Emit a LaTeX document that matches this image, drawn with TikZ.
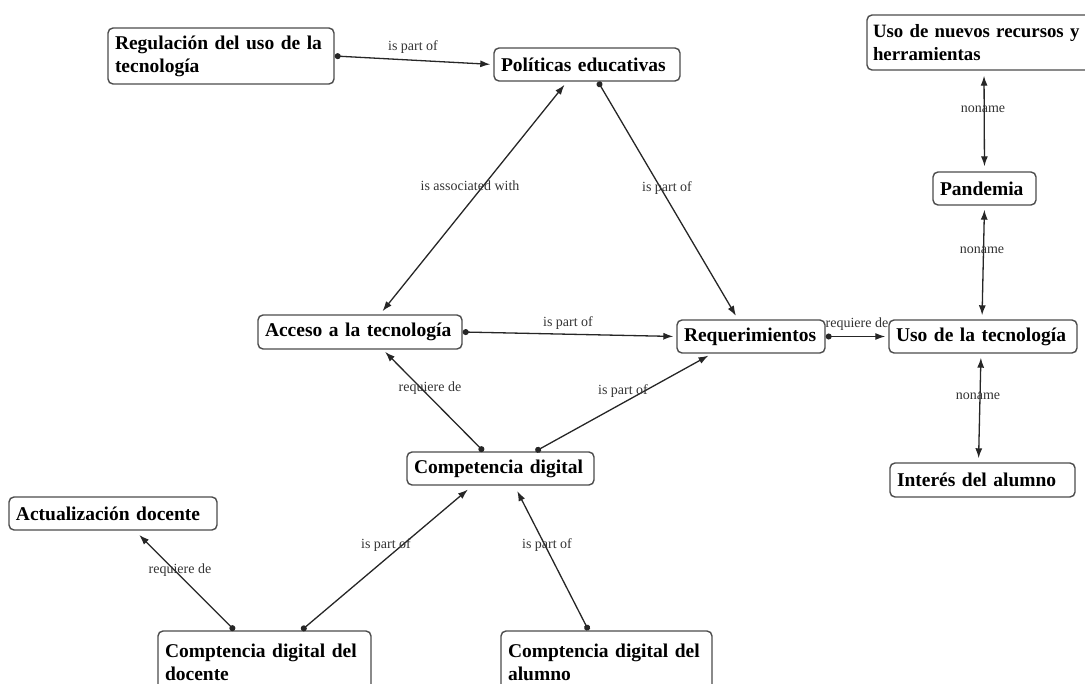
\documentclass[tikz,border=0pt]{standalone}
\usepackage{fontspec}
\setmainfont{Liberation Serif}
\usetikzlibrary{arrows.meta,calc}

\begin{document}
\begin{tikzpicture}[x=1pt,y=-1pt,
  concept/.style={draw=black!70, line width=1.4pt, rounded corners=5pt, fill=white,
    inner xsep=7pt, inner ysep=2pt, align=left, text=black,
    font=\fontsize{19.5}{23}\selectfont\bfseries},
  link/.style={draw=black!85, line width=1.3pt},
  oneway/.style={link, {Circle[length=6pt]}-{Latex[length=10pt,width=7pt]}, shorten >=3pt},
  twoway/.style={link, {Latex[length=10pt,width=7pt]}-{Latex[length=10pt,width=7pt]}, shorten >=4pt, shorten <=4pt},
  lab/.style={font=\fontsize{14}{16}\selectfont, text=black!80, inner sep=0pt}
]
\useasboundingbox (0,0) rectangle (1085,684);

% concepts
\node[concept, text width=212pt, minimum height=56pt] (reg) at (221,56) {Regulación del uso de la\\tecnología};
\node[concept, text width=172pt, minimum height=33pt] (pol) at (587,64.5) {Políticas educativas};
\node[concept, text width=226pt, minimum height=55pt, inner xsep=6pt,
      font=\fontsize{18.8}{23}\selectfont\bfseries] (nue) at (986,42.5) {\mbox{Uso de nuevos recursos y}\\herramientas};
\node[concept, text width=89pt, minimum height=33pt] (pan) at (984.5,188.5) {Pandemia};
\node[concept, text width=190pt, minimum height=34pt] (acc) at (360,332) {Acceso a la tecnología};
\node[concept, text width=134pt, minimum height=33pt] (req) at (751,336.5) {Requerimientos};
\node[concept, text width=174pt, minimum height=33pt] (uso) at (983,336.5) {Uso de la tecnología};
\node[concept, text width=173pt, minimum height=33pt] (com) at (500.5,468.5) {Competencia digital};
\node[concept, text width=171pt, minimum height=34pt] (int) at (982.5,480) {Interés del alumno};
\node[concept, text width=194pt, minimum height=33pt] (act) at (113,513.5) {Actualización docente};
\node[concept, text width=199pt, minimum height=62pt] (doc) at (264.5,662) {Comptencia digital del\\docente};
\node[concept, text width=197pt, minimum height=62pt] (alu) at (606.5,662) {Comptencia digital del\\alumno};

% connectors
\draw[oneway] (reg.east) -- (pol.west);
\draw[twoway] ($(pol.south)+(-20,0)$) -- ($(acc.north)+(20,0)$);
\draw[oneway, shorten >=4pt] ($(pol.south)+(11,0)$) -- ($(req.north)+(-13,0)$);
\draw[oneway] (acc.east) -- (req.west);
\draw[oneway] (req.east) -- (uso.west);
\draw[twoway, shorten >=5pt, shorten <=5pt] ($(nue.south)+(-2,0)$) -- (pan.north);
\draw[twoway] (pan.south) -- ($(uso.north)+(-1,0)$);
\draw[twoway] ($(uso.south)+(-2,0)$) -- ($(int.north)+(-4,0)$);
\draw[oneway] ($(com.north)+(-17,0)$) -- ($(acc.south)+(23,0)$);
\draw[oneway, shorten >=4pt] ($(com.north)+(35,0)$) -- ($(req.south)+(-39,0)$);
\draw[oneway, shorten >=6pt] ($(doc.north)+(-30,0)$) -- ($(act.south)+(22,0)$);
\draw[oneway, shorten >=6pt] ($(doc.north)+(37,0)$) -- ($(com.south)+(-28,0)$);
\draw[oneway, shorten >=6pt] ($(alu.north)+(-18,0)$) -- ($(com.south)+(14,0)$);

% connector labels
\node[lab] (l1) at (413,47) {is part of};
\node[lab] (l2) at (470,186) {is associated with};
\node[lab] (l3) at (667,188) {is part of};
\node[lab] (l4) at (568,323) {is part of};
\node[lab] (l5) at (857,324) {requiere de};
\node[lab] (l6) at (983,109) {noname};
\node[lab] (l7) at (982,250) {noname};
\node[lab] (l8) at (978,396) {noname};
\node[lab] (l9) at (430,388) {requiere de};
\node[lab] (l10) at (623,391) {is part of};
\node[lab] (l11) at (180,570) {requiere de};
\node[lab] (l12) at (386,545) {is part of};
\node[lab] (l13) at (547,545) {is part of};
\end{tikzpicture}
\end{document}
